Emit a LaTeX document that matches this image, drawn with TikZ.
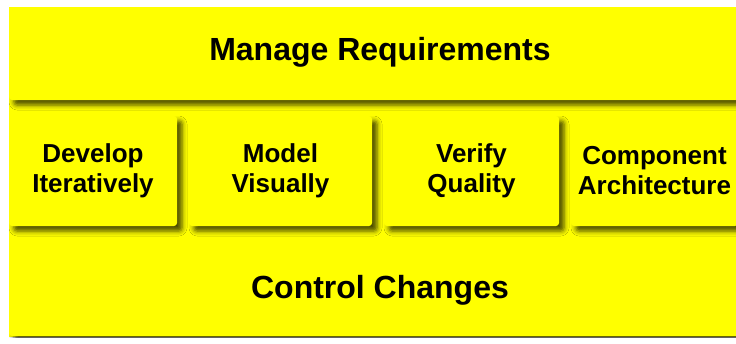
\documentclass[tikz,border=0pt]{standalone}
\usepackage{fontspec}
\setmainfont{Liberation Sans}
\usetikzlibrary{positioning,shadows.blur}

\definecolor{btnyellow}{RGB}{255,255,0}

\tikzset{
  button/.style={fill=btnyellow, rounded corners=3pt, inner sep=0pt, align=center,
    font=\bfseries\fontsize{26}{30}\selectfont,
    blur shadow={shadow xshift=5pt, shadow yshift=-5pt, shadow blur radius=5pt, shadow opacity=72}},
  band/.style={button, font=\bfseries\fontsize{32}{36}\selectfont}
}

\begin{document}
\begin{tikzpicture}[x=1pt,y=-1pt]
\useasboundingbox (0,0) rectangle (736,343);
% yellow backing behind all the buttons
\fill[btnyellow] (9,7) rectangle (736,337);
\begin{scope}
\clip (9,7) rectangle (736,337);
% top band
\node[band, minimum width=742pt, minimum height=96pt] (manage) at (380,52) {Manage Requirements};
% middle row
\node[button, minimum width=168pt, minimum height=110pt] (develop) at (93,171) {Develop\\Iteratively};
\node[button, minimum width=183pt, minimum height=110pt] (model) at (280.5,171) {Model\\Visually};
\node[button, minimum width=175pt, minimum height=110pt] (verify) at (471.5,171) {Verify\\Quality};
\node[button, minimum width=167pt, minimum height=110pt] (component) at (654.5,171) {Component\\Architecture};
% bottom band
\node[band, minimum width=742pt, minimum height=92pt] (control) at (380,290) {Control Changes};
\end{scope}
\end{tikzpicture}
\end{document}
